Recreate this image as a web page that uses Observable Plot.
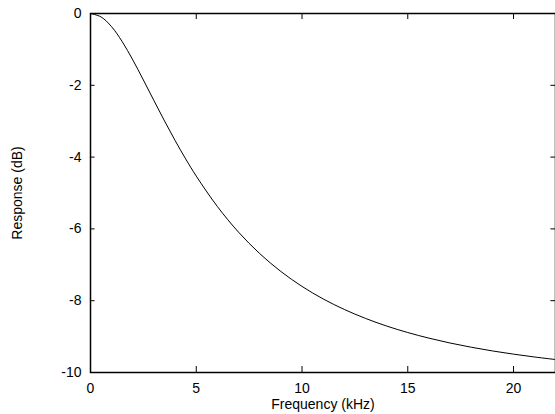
<!DOCTYPE html>
<html>
<head>
<meta charset="utf-8">
<script src="https://cdn.jsdelivr.net/npm/d3@7"></script>
<script src="https://cdn.jsdelivr.net/npm/@observablehq/plot@0.6"></script>
<style>
  html, body { margin: 0; padding: 0; background: #fff; }
  #chart svg { display: block; }
</style>
</head>
<body>
<div id="chart"></div>
<script>
// Frequency in kHz, response in dB
const freqKHz = [0, 0.5, 1, 1.5, 2, 2.5, 3, 3.5, 4, 4.5, 5, 6, 7, 8, 9, 10, 11, 12, 13, 14, 15, 16, 17, 18, 19, 20, 21, 22.05];
const responseDB = [0, -0.096, -0.370, -0.785, -1.293, -1.852, -2.427, -2.994, -3.538, -4.051, -4.529, -5.378, -6.092, -6.688, -7.186, -7.602, -7.951, -8.244, -8.493, -8.706, -8.887, -9.043, -9.179, -9.296, -9.399, -9.489, -9.569, -9.643];
const xTicks = [0, 5, 10, 15, 20];
const yTicks = [0, -2, -4, -6, -8, -10];

const data = freqKHz.map((f, i) => ({f, db: responseDB[i]}));

const W = 555, H = 414;
const padL = 90, padT = 13, padB = 372, padR = 556.4;
const plotW = padR - padL, plotH = padB - padT;
const tickLen = 6;

const chart = Plot.plot({
  width: W,
  height: H,
  marginLeft: padL,
  marginTop: padT,
  marginBottom: H - padB,
  marginRight: 0,
  style: {fontFamily: "'Liberation Sans', Arial, sans-serif", fontSize: "14px", color: "#000", background: "#fff"},
  x: {domain: [0, 22.05], range: [padL, padR]},
  y: {domain: [-10, 0], range: [padB, padT]},
  marks: [
    Plot.tickX(xTicks, {x: d => d, stroke: "#000", insetTop: plotH - tickLen}),
    Plot.tickX(xTicks, {x: d => d, stroke: "#000", insetBottom: plotH - tickLen}),
    Plot.tickY(yTicks, {y: d => d, stroke: "#000", insetRight: plotW - tickLen}),
    Plot.tickY(yTicks, {y: d => d, stroke: "#000", insetLeft: plotW - tickLen}),
    Plot.axisX(xTicks, {
      anchor: "bottom", tickSize: 0, tickPadding: 11, tickFormat: d => String(d),
      label: "Frequency (kHz)", labelAnchor: "center", labelArrow: "none", labelOffset: 36
    }),
    Plot.axisY(yTicks, {
      anchor: "left", tickSize: 0, tickPadding: 9, tickFormat: d => String(d),
      label: "Response (dB)", labelAnchor: "center", labelArrow: "none", labelOffset: 78
    }),
    Plot.line(data, {x: "f", y: "db", curve: "catmull-rom", stroke: "#000", strokeWidth: 1}),
    Plot.frame({stroke: "#000", strokeWidth: 1.5})
  ]
});
document.getElementById("chart").appendChild(chart);
</script>
</body>
</html>
